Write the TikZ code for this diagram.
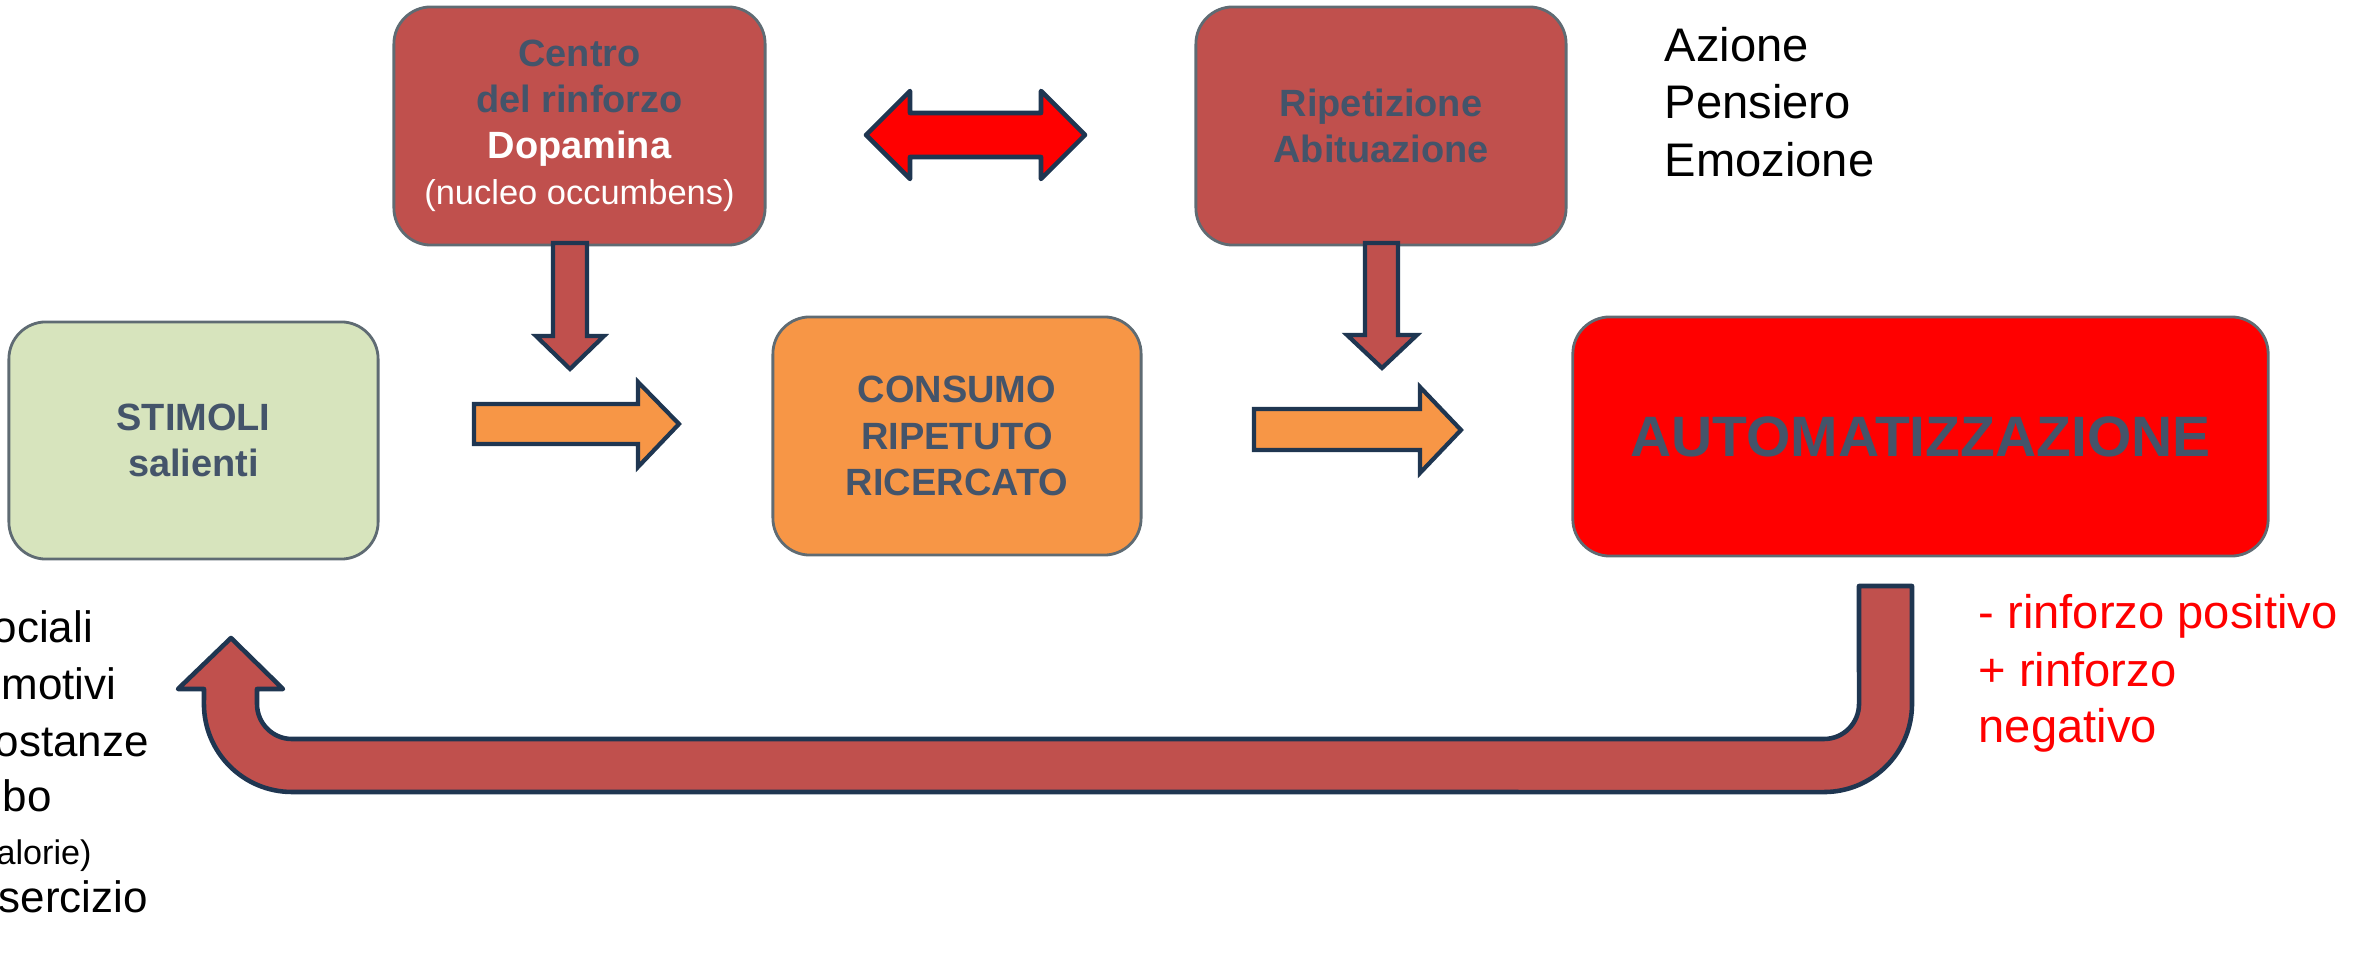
\documentclass[tikz,border=0pt]{standalone}
\usepackage{fontspec}
\setmainfont{Liberation Sans}
\definecolor{boxred}{HTML}{C0504D}
\definecolor{boxgreen}{HTML}{D7E4BD}
\definecolor{boxorange}{HTML}{F79646}
\definecolor{boxalarm}{HTML}{FF0000}
\definecolor{txtdark}{HTML}{44546A}
\definecolor{boxline}{HTML}{5F6B73}
\definecolor{arrline}{HTML}{1F3651}
\begin{document}
\begin{tikzpicture}[x=0.01cm,y=-0.01cm,
  box/.style={draw=boxline, line width=0.8pt, rounded corners=0.37cm, align=center,
    text=txtdark, font=\bfseries\fontsize{10.8}{13.1}\selectfont, inner sep=0pt},
  blockarrow/.style={draw=arrline, line width=1.2pt, line join=miter},
  roundarrow/.style={draw=arrline, line width=1.3pt, line join=round},
  plaintext/.style={inner sep=0pt, anchor=base west, font=\fontsize{13.4}{16.4}\selectfont},
  sidetext/.style={inner sep=0pt, anchor=base west, font=\fontsize{12.5}{15}\selectfont},
]
\useasboundingbox (0,0) rectangle (2366,980);
\clip (0,0) rectangle (2366,980);

% boxes
\node[box, fill=boxred, minimum width=3.71cm, minimum height=2.38cm] (centro) at (579.5,126)
  {Centro\\del rinforzo\\\textcolor{white}{Dopamina}\\{\mdseries\fontsize{9.8}{12.8}\selectfont\color{white}(nucleo occumbens)}};
\node[box, fill=boxred, minimum width=3.70cm, minimum height=2.38cm] (ripet) at (1381,126)
  {Ripetizione\\Abituazione};
\node[box, fill=boxgreen, minimum width=3.69cm, minimum height=2.37cm] (stimoli) at (193.5,440.5)
  {STIMOLI\\salienti};
\node[box, fill=boxorange, minimum width=3.68cm, minimum height=2.38cm] (consumo) at (957,436)
  {CONSUMO\\RIPETUTO\\RICERCATO};
\node[box, fill=boxalarm, minimum width=6.95cm, minimum height=2.39cm,
  font=\bfseries\fontsize{16.2}{19}\selectfont] (auto) at (1920.5,436.5) {AUTOMATIZZAZIONE};

% side texts
\node[plaintext] (az1) at (1664,62) {Azione};
\node[plaintext] (az2) at (1664,119) {Pensiero};
\node[plaintext] (az3) at (1664,177) {Emozione};

\node[plaintext, text=boxalarm] (rf1) at (1978,629) {- rinforzo positivo};
\node[plaintext, text=boxalarm] (rf2) at (1978,687) {+ rinforzo};
\node[plaintext, text=boxalarm] (rf3) at (1978,743) {negativo};

\node[sidetext] (l1) at (-8,643) {ociali};
\node[sidetext] (l2) at (1,700) {motivi};
\node[sidetext] (l3) at (-6,757) {ostanze};
\node[sidetext] (l4) at (2,812) {bo};
\node[sidetext, font=\fontsize{9.7}{12}\selectfont] (l5) at (-4,865) {alorie)};
\node[sidetext] (l6) at (-2,913) {sercizio};

% double arrow
\draw[roundarrow, fill=boxalarm] (866,135) -- (910,91) -- (910,113) -- (1041,113) -- (1041,91)
  -- (1085,135) -- (1041,179) -- (1041,157) -- (910,157) -- (910,179) -- cycle;

% down arrows
\draw[blockarrow, fill=boxred] (553,243) -- (587,243) -- (587,336) -- (604,336) -- (570,369)
  -- (536,336) -- (553,336) -- cycle;
\draw[blockarrow, fill=boxred] (1365,243) -- (1398,243) -- (1398,335) -- (1417,335) -- (1382,368)
  -- (1347,335) -- (1365,335) -- cycle;

% right arrows
\draw[blockarrow, fill=boxorange] (474,404) -- (638,404) -- (638,382) -- (679,424) -- (638,467)
  -- (638,444) -- (474,444) -- cycle;
\draw[blockarrow, fill=boxorange] (1254,409) -- (1420,409) -- (1420,387) -- (1461,430) -- (1420,473)
  -- (1420,450) -- (1254,450) -- cycle;

% U-turn arrow
\draw[roundarrow, fill=boxred] (1859,586) -- (1912,586) -- (1912,704)
  arc[start angle=0, end angle=-90, radius=0.88cm] -- (292,792)
  arc[start angle=270, end angle=180, radius=0.88cm] -- (204,689) -- (178,689) -- (231,638)
  -- (283,689) -- (257,689) -- (257,704)
  arc[start angle=180, end angle=270, radius=0.35cm] -- (1824,739)
  arc[start angle=-90, end angle=0, radius=0.35cm] -- cycle;
\end{tikzpicture}
\end{document}
